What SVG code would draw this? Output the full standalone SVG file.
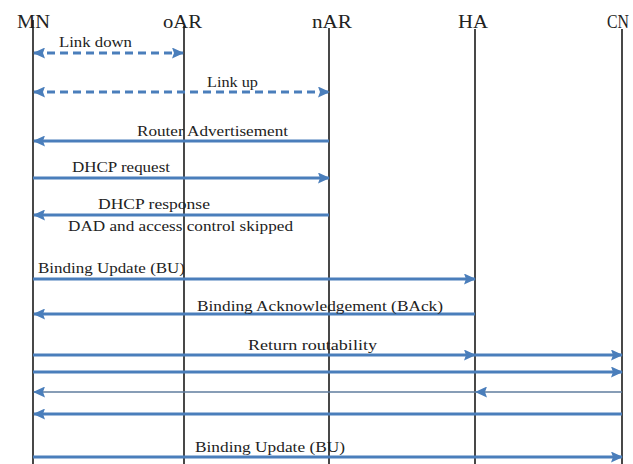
<svg xmlns="http://www.w3.org/2000/svg" width="633" height="464" viewBox="0 0 633 464">
<style>
.hdr{font-family:"Liberation Serif","Times New Roman",serif;font-size:19px;fill:#222}
.lbl{font-family:"Liberation Serif","Times New Roman",serif;font-size:14px;fill:#222}
.life{stroke:#1a1a1a;stroke-width:1.6;fill:none}
.msg{stroke:#4a7ebb;stroke-width:3;fill:none}
.thin{stroke:#5f7d9e;stroke-width:1.6;fill:none}
.dash{stroke:#4a7ebb;stroke-width:3;fill:none;stroke-dasharray:8 5}
</style>
<defs>
<marker id="ah" markerUnits="userSpaceOnUse" markerWidth="12" markerHeight="11" refX="11" refY="5.5" orient="auto-start-reverse" viewBox="0 0 12 11">
<path d="M0,0 L12,5.5 L0,11 L2,5.5 z" fill="#4a7ebb"/>
</marker>
</defs>
<rect width="633" height="464" fill="#ffffff"/>
<g id="MN"><text class="hdr" x="17" y="28" textLength="33" lengthAdjust="spacingAndGlyphs">MN</text><line class="life" x1="33" y1="20" x2="33" y2="464"/></g>
<g id="oAR"><text class="hdr" x="163" y="28" textLength="39" lengthAdjust="spacingAndGlyphs">oAR</text><line class="life" x1="184" y1="26" x2="184" y2="464"/></g>
<g id="nAR"><text class="hdr" x="312" y="28" textLength="40" lengthAdjust="spacingAndGlyphs">nAR</text><line class="life" x1="329" y1="28" x2="329" y2="464"/></g>
<g id="HA"><text class="hdr" x="458" y="28" textLength="30" lengthAdjust="spacingAndGlyphs">HA</text><line class="life" x1="475" y1="29" x2="475" y2="464"/></g>
<g id="CN"><text class="hdr" x="607" y="28" textLength="22" lengthAdjust="spacingAndGlyphs">CN</text><line class="life" x1="622" y1="29" x2="622" y2="464"/></g>
<g id="connectors">
<line class="dash" x1="34" y1="53" x2="183" y2="53" marker-start="url(#ah)" marker-end="url(#ah)"/>
<line class="dash" x1="34" y1="92" x2="329" y2="92" marker-start="url(#ah)" marker-end="url(#ah)"/>
<line class="msg" x1="329" y1="141" x2="34" y2="141" marker-end="url(#ah)"/>
<line class="msg" x1="33" y1="178" x2="329" y2="178" marker-end="url(#ah)"/>
<line class="msg" x1="329" y1="215" x2="34" y2="215" marker-end="url(#ah)"/>
<line class="msg" x1="33" y1="279" x2="475" y2="279" marker-end="url(#ah)"/>
<line class="msg" x1="475" y1="314" x2="34" y2="314" marker-end="url(#ah)"/>
<line class="msg" x1="33" y1="355" x2="475" y2="355" marker-end="url(#ah)"/>
<line class="msg" x1="475" y1="355" x2="622" y2="355" marker-end="url(#ah)"/>
<line class="msg" x1="33" y1="372" x2="622" y2="372" marker-end="url(#ah)"/>
<line class="thin" x1="622" y1="392" x2="476" y2="392" marker-end="url(#ah)"/>
<line class="thin" x1="476" y1="392" x2="34" y2="392" marker-end="url(#ah)"/>
<line class="msg" x1="622" y1="414" x2="34" y2="414" marker-end="url(#ah)"/>
<line class="msg" x1="33" y1="457" x2="622" y2="457" marker-end="url(#ah)"/>
</g>
<g id="labels">
<text class="lbl" x="59" y="47" textLength="73" lengthAdjust="spacingAndGlyphs">Link down</text>
<text class="lbl" x="207" y="87" textLength="51" lengthAdjust="spacingAndGlyphs">Link up</text>
<text class="lbl" x="137" y="136" textLength="151" lengthAdjust="spacingAndGlyphs">Router Advertisement</text>
<text class="lbl" x="72" y="172" textLength="98" lengthAdjust="spacingAndGlyphs">DHCP request</text>
<text class="lbl" x="98" y="209" textLength="112" lengthAdjust="spacingAndGlyphs">DHCP response</text>
<text class="lbl" x="68" y="231" textLength="225" lengthAdjust="spacingAndGlyphs">DAD and access control skipped</text>
<text class="lbl" x="38" y="273" textLength="147" lengthAdjust="spacingAndGlyphs">Binding Update (BU)</text>
<text class="lbl" x="197" y="311" textLength="246" lengthAdjust="spacingAndGlyphs">Binding Acknowledgement (BAck)</text>
<text class="lbl" x="248" y="350" textLength="129" lengthAdjust="spacingAndGlyphs">Return routability</text>
<text class="lbl" x="195" y="452" textLength="150" lengthAdjust="spacingAndGlyphs">Binding Update (BU)</text>
</g>
</svg>
